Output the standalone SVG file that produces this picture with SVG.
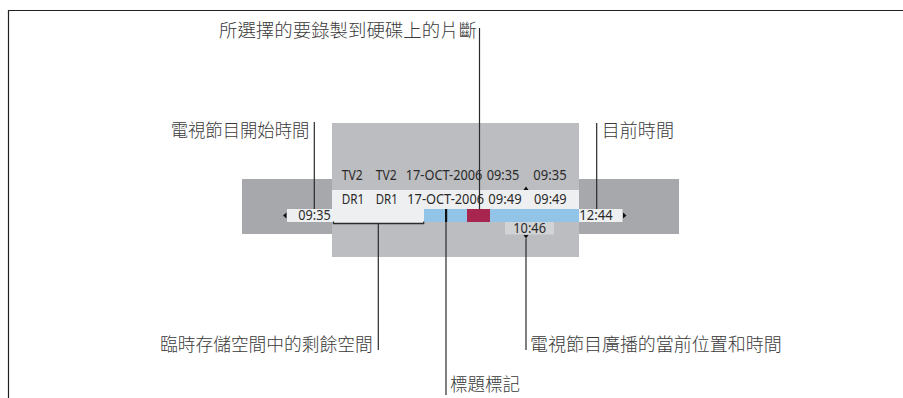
<svg xmlns="http://www.w3.org/2000/svg" width="903" height="398" viewBox="0 0 903 398">
<style>
.cjk{font-family:"Noto Sans CJK TC","Noto Sans CJK SC",sans-serif;font-size:18px;font-weight:300;fill:#3a3a3a}
.lat{font-family:"Noto Sans","Liberation Sans",sans-serif;font-size:14px;fill:#2a2a2a}
.ld{stroke:#2a2a2a;stroke-width:1.2;fill:none}
.hl{fill:#eeeff1}
</style>
<rect x="0" y="0" width="903" height="398" fill="#ffffff"/>
<g id="frame"><path d="M8.5 398V10.5H903" stroke="#222" stroke-width="1.2" fill="none"/></g>

<g id="screen">
  <rect x="242" y="179" width="437" height="55" fill="#a7a8ab"/>
  <rect x="332" y="123" width="247" height="134" fill="#bcbdc0"/>
  <rect class="hl" x="332" y="190" width="247" height="19"/>
  <rect class="hl" x="287" y="209" width="137" height="13"/>
  <rect x="424" y="209" width="155" height="13" fill="#92c4e8"/>
  <rect x="467" y="209" width="23" height="13" fill="#a8254f"/>
  <rect class="hl" x="579" y="209" width="43.5" height="13"/>
  <rect x="505" y="222" width="49" height="12.5" fill="#d2d3d5"/>
  <rect x="445" y="209" width="2.2" height="13" fill="#111"/>
  <polygon points="283,215.5 286.5,212.5 286.5,218.5" fill="#111"/>
  <polygon points="626.5,215.5 623,212.5 623,218.5" fill="#111"/>
  <polygon points="526,186.5 523.5,190 528.5,190" fill="#111"/>
  <polygon points="526,238.5 523.5,235 528.5,235" fill="#111"/>
  <text class="lat" x="341.7" y="179.7" textLength="21" lengthAdjust="spacingAndGlyphs">TV2</text>
  <text class="lat" x="375.7" y="179.7" textLength="21" lengthAdjust="spacingAndGlyphs">TV2</text>
  <text class="lat" x="405.7" y="179.7" textLength="76.7" lengthAdjust="spacingAndGlyphs">17-OCT-2006</text>
  <text class="lat" x="486.7" y="179.7" textLength="32.7" lengthAdjust="spacingAndGlyphs">09:35</text>
  <text class="lat" x="533.3" y="179.7" textLength="33.3" lengthAdjust="spacingAndGlyphs">09:35</text>
  <text class="lat" x="341.7" y="204" textLength="22.6" lengthAdjust="spacingAndGlyphs">DR1</text>
  <text class="lat" x="375.7" y="204" textLength="22" lengthAdjust="spacingAndGlyphs">DR1</text>
  <text class="lat" x="407.3" y="204" textLength="76.7" lengthAdjust="spacingAndGlyphs">17-OCT-2006</text>
  <text class="lat" x="488.3" y="204" textLength="33.4" lengthAdjust="spacingAndGlyphs">09:49</text>
  <text class="lat" x="534" y="204" textLength="32.7" lengthAdjust="spacingAndGlyphs">09:49</text>
  <text class="lat" x="298.3" y="220" textLength="32.4" lengthAdjust="spacingAndGlyphs">09:35</text>
  <text class="lat" x="579.3" y="220" textLength="33.4" lengthAdjust="spacingAndGlyphs">12:44</text>
  <text class="lat" x="513.3" y="232.5" textLength="32.7" lengthAdjust="spacingAndGlyphs">10:46</text>
</g>

<g id="connectors">
  <path class="ld" d="M479.5 28V209"/>
  <path class="ld" d="M314.3 122V209"/>
  <path class="ld" d="M596.7 123V209"/>
  <path class="ld" d="M333.5 221.5V223.6H423.7V221.5"/>
  <path class="ld" d="M378.3 223.6V350"/>
  <path class="ld" d="M446 222V395"/>
  <path class="ld" d="M526 238.5V350"/>
</g>

<g id="label-selected"><text class="cjk" x="219" y="37" textLength="258" lengthAdjust="spacingAndGlyphs">所選擇的要錄製到硬碟上的片斷</text></g>
<g id="label-start"><text class="cjk" x="170.7" y="137" textLength="138.6" lengthAdjust="spacingAndGlyphs">電視節目開始時間</text></g>
<g id="label-now"><text class="cjk" x="601.7" y="137" textLength="72.3" lengthAdjust="spacingAndGlyphs">目前時間</text></g>
<g id="label-space"><text class="cjk" x="160" y="350.5" textLength="212.7" lengthAdjust="spacingAndGlyphs">臨時存儲空間中的剩餘空間</text></g>
<g id="label-position"><text class="cjk" x="530" y="350.5" textLength="251.7" lengthAdjust="spacingAndGlyphs">電視節目廣播的當前位置和時間</text></g>
<g id="label-title"><text class="cjk" x="450" y="391" textLength="70" lengthAdjust="spacingAndGlyphs">標題標記</text></g>
</svg>
